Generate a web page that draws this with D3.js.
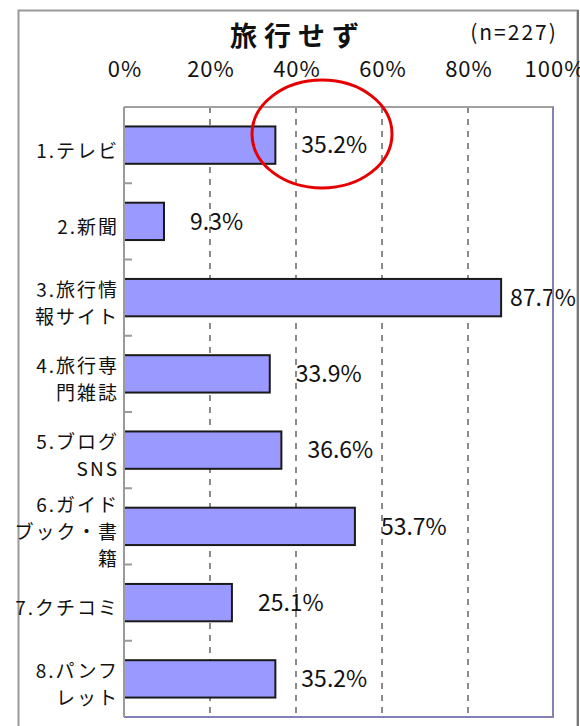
<!DOCTYPE html>
<html>
<head>
<meta charset="utf-8">
<script src="https://cdn.jsdelivr.net/npm/d3@7"></script>
<style>
  html, body { margin: 0; padding: 0; background: #fff; overflow: hidden; }
  svg { display: block; font-family: "Noto Sans CJK JP", "Noto Sans", sans-serif; }
</style>
</head>
<body>
<script>
// Media used for travel information (respondents who did not travel)
const chartTitle = "旅行せず";
const sampleNote = "(n=227)";
const categories = [
  "1.テレビ",
  "2.新聞",
  "3.旅行情\n報サイト",
  "4.旅行専\n門雑誌",
  "5.ブログ\nSNS",
  "6.ガイド\nブック・書\n籍",
  "7.クチコミ",
  "8.パンフ\nレット"
];
const values = [35.2, 9.3, 87.7, 33.9, 36.6, 53.7, 25.1, 35.2];
const tickValues = [0, 20, 40, 60, 80, 100];
const gridValues = [20, 40, 60, 80];

const W = 580, H = 726;
const plot = { left: 124, right: 554, top: 107, bottom: 717 };

const svg = d3.select("body").append("svg")
  .attr("width", W).attr("height", H);

const x = d3.scaleLinear().domain([0, 100]).range([plot.left, plot.right]);
const y = d3.scaleBand()
  .domain(d3.range(categories.length))
  .range([plot.top, plot.bottom])
  .paddingInner(0.51)
  .paddingOuter(0.255);

// outer frame
svg.append("rect")
  .attr("x", 18.5).attr("y", 10.5)
  .attr("width", 559).attr("height", 760)
  .attr("fill", "#fff")
  .attr("stroke", "#9a9a9a").attr("stroke-width", 2);
svg.append("line")
  .attr("x1", 578).attr("x2", 578).attr("y1", 10).attr("y2", H)
  .attr("stroke", "#777").attr("stroke-width", 2);

// title and sample size
svg.append("text")
  .attr("x", 298).attr("y", 36).attr("dy", "0.36em")
  .attr("text-anchor", "middle")
  .attr("font-size", 27).attr("font-weight", "bold")
  .attr("letter-spacing", 7)
  .attr("fill", "#111")
  .text(chartTitle);
svg.append("text")
  .attr("x", 514).attr("y", 32).attr("dy", "0.36em")
  .attr("text-anchor", "middle")
  .attr("font-size", 21)
  .attr("letter-spacing", 2)
  .attr("fill", "#111")
  .text(sampleNote);

// top percentage axis labels
svg.append("g")
  .selectAll("text")
  .data(tickValues)
  .join("text")
  .attr("x", d => x(d) + 1)
  .attr("y", 69).attr("dy", "0.36em")
  .attr("text-anchor", "middle")
  .attr("font-size", 22)
  .attr("letter-spacing", 1)
  .attr("fill", "#111")
  .text(d => d + "%");

// dashed gridlines
svg.append("g")
  .selectAll("line")
  .data(gridValues)
  .join("line")
  .attr("x1", d => x(d)).attr("x2", d => x(d))
  .attr("y1", plot.top).attr("y2", plot.bottom)
  .attr("stroke", "#8a8a8a").attr("stroke-width", 2)
  .attr("stroke-dasharray", "6,6");

// bars
svg.append("g")
  .selectAll("rect")
  .data(values)
  .join("rect")
  .attr("x", x(0))
  .attr("y", (d, i) => y(i))
  .attr("width", d => x(d) - x(0))
  .attr("height", y.bandwidth())
  .attr("fill", "#9999ff")
  .attr("stroke", "#1a1a1a").attr("stroke-width", 2);

// value labels
svg.append("g")
  .selectAll("text")
  .data(values)
  .join("text")
  .attr("x", d => Math.min(x(d) + 26, x(100) - 44))
  .attr("y", (d, i) => y(i) + y.bandwidth() / 2)
  .attr("dy", "0.36em")
  .attr("font-size", 23)
  .attr("fill", "#111")
  .text(d => d.toFixed(1) + "%");

// plot frame
const frame = svg.append("g");
frame.append("line")
  .attr("x1", plot.left).attr("x2", plot.right)
  .attr("y1", plot.top).attr("y2", plot.top)
  .attr("stroke", "#a0a0a0").attr("stroke-width", 2);
frame.append("line")
  .attr("x1", plot.right - 1).attr("x2", plot.right - 1)
  .attr("y1", plot.top).attr("y2", plot.bottom)
  .attr("stroke", "#8282b8").attr("stroke-width", 2);
frame.append("line")
  .attr("x1", plot.left).attr("x2", plot.right)
  .attr("y1", plot.bottom).attr("y2", plot.bottom)
  .attr("stroke", "#8282b8").attr("stroke-width", 2);
frame.append("line")
  .attr("x1", plot.left).attr("x2", plot.left)
  .attr("y1", plot.top).attr("y2", plot.bottom)
  .attr("stroke", "#9a9a9a").attr("stroke-width", 2);

// category tick marks between bands
const step = y.step();
frame.selectAll("line.tick")
  .data(d3.range(1, categories.length))
  .join("line")
  .attr("class", "tick")
  .attr("x1", plot.left).attr("x2", plot.left + 8)
  .attr("y1", i => plot.top + i * step)
  .attr("y2", i => plot.top + i * step)
  .attr("stroke", "#9a9a9a").attr("stroke-width", 2);

// category labels (wrapped)
const lineGap = 27;
const catG = svg.append("g");
categories.forEach((c, i) => {
  const lines = c.split("\n");
  const cy = y(i) + y.bandwidth() / 2 + 6;
  const t = catG.append("text")
    .attr("text-anchor", "end")
    .attr("font-size", 19)
    .attr("letter-spacing", 2)
    .attr("fill", "#111");
  lines.forEach((ln, k) => {
    t.append("tspan")
      .attr("x", 119)
      .attr("y", cy + (k - (lines.length - 1) / 2) * lineGap)
      .attr("dy", "0.36em")
      .text(ln);
  });
});

// highlight circle around the first value
svg.append("ellipse")
  .attr("cx", 322).attr("cy", 134)
  .attr("rx", 70).attr("ry", 54)
  .attr("fill", "none")
  .attr("stroke", "#e60000").attr("stroke-width", 3);
</script>
</body>
</html>
